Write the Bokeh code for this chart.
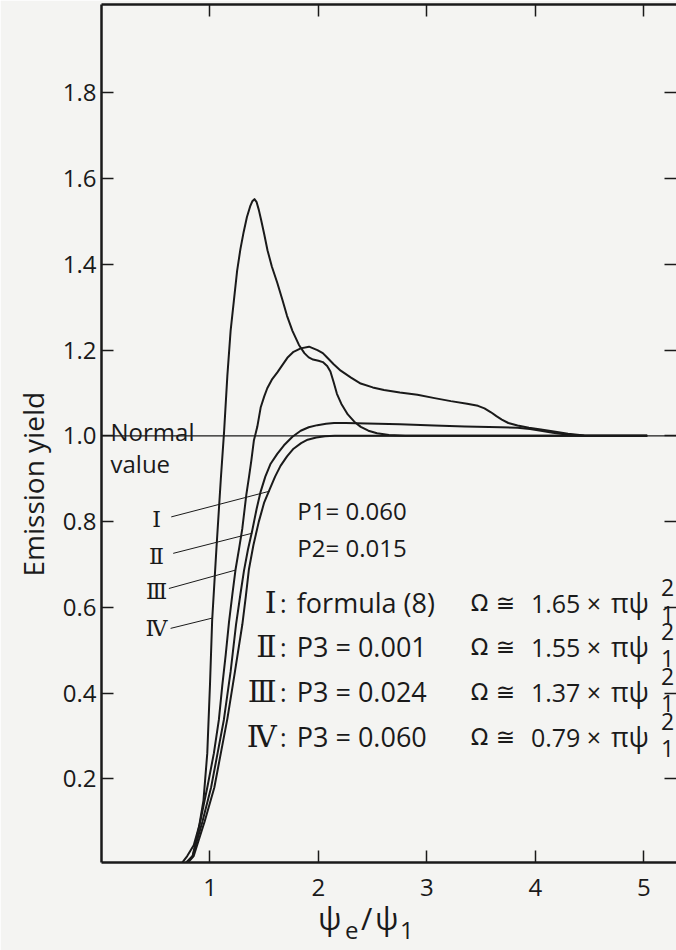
import math
from bokeh.plotting import figure
from bokeh.models import Range1d, FixedTicker, LinearAxis, Span, Title, PrintfTickFormatter
from bokeh.core.properties import value
from bokeh.embed import file_html
from bokeh.resources import INLINE

# ---------------- data ----------------
x_ticks = [1, 2, 3, 4, 5]
y_ticks = [0.2, 0.4, 0.6, 0.8, 1.0, 1.2, 1.4, 1.6, 1.8]
normal_value = 1.0

curve_I_x = [0.78, 0.85, 0.95, 1.04, 1.10, 1.16, 1.23, 1.298, 1.33, 1.359, 1.40, 1.45, 1.50, 1.55,
             1.60, 1.65, 1.71, 1.77, 1.84, 1.90, 1.98, 2.06, 2.15, 2.25, 5.03]
curve_I_y = [0.0, 0.02, 0.10, 0.18, 0.26, 0.34, 0.45, 0.56, 0.625, 0.689, 0.745, 0.80, 0.845, 0.875,
             0.905, 0.93, 0.952, 0.97, 0.983, 0.991, 0.996, 0.999, 1.0, 1.0, 1.0]

curve_II_x = [0.77, 0.84, 0.93, 1.01, 1.07, 1.128, 1.19, 1.24, 1.28, 1.313, 1.35, 1.39, 1.43, 1.467,
              1.51, 1.559, 1.62, 1.682, 1.76, 1.836, 1.91, 1.99, 2.07, 2.143, 2.25, 2.45, 2.75,
              3.066, 3.35, 3.68, 3.835, 3.95, 4.05, 4.16, 4.265, 4.45, 5.03]
curve_II_y = [0.0, 0.02, 0.10, 0.18, 0.26, 0.338, 0.45, 0.56, 0.63, 0.685, 0.735, 0.78, 0.83, 0.87,
              0.905, 0.935, 0.958, 0.978, 0.998, 1.012, 1.02, 1.025, 1.028, 1.03, 1.03, 1.029, 1.027,
              1.024, 1.022, 1.02, 1.019, 1.016, 1.012, 1.007, 1.004, 1.0, 1.0]

curve_III_x = [0.76, 0.84, 0.91, 0.975, 1.036, 1.082, 1.113, 1.145, 1.175, 1.206, 1.236, 1.27, 1.298,
               1.335, 1.36, 1.381, 1.405, 1.436, 1.467, 1.50, 1.528, 1.57, 1.621, 1.67, 1.713, 1.77,
               1.836, 1.913, 1.99, 2.04, 2.082, 2.14, 2.205, 2.30, 2.389, 2.50, 2.604, 2.75, 2.912,
               3.07, 3.22, 3.37, 3.47, 3.53, 3.59, 3.64, 3.69, 3.75, 3.835, 3.94, 4.05, 4.17, 4.30,
               4.45, 5.03]
curve_III_y = [0.0, 0.02, 0.10, 0.18, 0.26, 0.338, 0.417, 0.49, 0.565, 0.63, 0.689, 0.74, 0.784,
               0.863, 0.905, 0.942, 0.99, 1.021, 1.066, 1.092, 1.111, 1.131, 1.148, 1.166, 1.182,
               1.196, 1.204, 1.208, 1.20, 1.193, 1.182, 1.167, 1.152, 1.136, 1.122, 1.113, 1.107,
               1.101, 1.096, 1.088, 1.081, 1.075, 1.07, 1.064, 1.055, 1.046, 1.038, 1.03, 1.024,
               1.019, 1.015, 1.01, 1.005, 1.001, 1.0]

curve_IV_x = [0.73, 0.79, 0.85, 0.90, 0.94, 0.975, 1.0, 1.02, 1.06, 1.10, 1.13, 1.16, 1.19, 1.22,
              1.25, 1.28, 1.31, 1.34, 1.37, 1.39, 1.41, 1.43, 1.45, 1.47, 1.50, 1.53, 1.57, 1.62,
              1.67, 1.71, 1.76, 1.82, 1.87, 1.91, 1.95, 2.00, 2.04, 2.08, 2.11, 2.14, 2.17, 2.21,
              2.27, 2.33, 2.39, 2.46, 2.54, 2.65, 2.80, 5.03]
curve_IV_y = [0.0, 0.02, 0.045, 0.09, 0.15, 0.26, 0.42, 0.57, 0.74, 0.90, 1.01, 1.14, 1.245, 1.315,
              1.385, 1.435, 1.475, 1.51, 1.535, 1.547, 1.552, 1.545, 1.527, 1.505, 1.47, 1.433,
              1.395, 1.357, 1.315, 1.28, 1.245, 1.212, 1.193, 1.183, 1.178, 1.175, 1.172, 1.163,
              1.15, 1.125, 1.098, 1.075, 1.05, 1.033, 1.021, 1.012, 1.006, 1.002, 1.0, 1.0]

curve_names = ["Ⅰ", "Ⅱ", "Ⅲ", "Ⅳ"]
curve_desc = ["formula (8)", "P3 = 0.001", "P3 = 0.024", "P3 = 0.060"]
omega_factor = ["1.65", "1.55", "1.37", "0.79"]
param_lines = ["P1= 0.060", "P2= 0.015"]
y_title = "Emission yield"
x_title_main = ["ψ", "/", "ψ"]
x_title_sub = ["e", "1"]

# ---------------- layout (annotation placement) ----------------
leader_start_x = [0.643, 0.661, 0.621, 0.637]
leader_start_y = [0.811, 0.726, 0.644, 0.551]
leader_end_x = [1.550, 1.390, 1.236, 1.021]
leader_end_y = [0.871, 0.773, 0.687, 0.575]
side_label_x = 0.507
side_label_y = [0.804, 0.718, 0.636, 0.551]
param_y = [0.827, 0.740]
row_y = [0.611, 0.508, 0.403, 0.298]
x_title_main_pos = [2.103, 2.445, 2.629]
x_title_sub_pos = [2.306, 2.814]

FONT = "Open Sans"
SYM = "DejaVu Sans"
SERIF = "DejaVu Serif"
INK = "#1a1a1a"
BG = "#f4f4f2"

p = figure(width=676, height=950, output_backend="svg", toolbar_location=None,
           x_range=Range1d(0, 5.30), y_range=Range1d(0.005, 2.006),
           min_border_left=101, min_border_right=0, min_border_top=4, min_border_bottom=88,
           background_fill_color=BG, border_fill_color=BG, outline_line_color=None)
p.xgrid.visible = False
p.ygrid.visible = False


def style_axis(ax, labels=True):
    ax.axis_line_width = 2.5
    ax.axis_line_color = INK
    ax.major_tick_in = 12
    ax.major_tick_out = 0
    ax.major_tick_line_width = 1.5
    ax.major_tick_line_color = INK
    ax.minor_tick_line_color = None
    ax.major_label_text_font = FONT
    ax.major_label_text_font_size = "24px"
    ax.major_label_text_color = INK
    if not labels:
        ax.major_label_overrides = {t: "" for t in ax.ticker.ticks}
        ax.major_label_text_font_size = "0px"
        ax.major_label_standoff = 0


xa = p.xaxis[0]
xa.ticker = FixedTicker(ticks=x_ticks)
style_axis(xa)
xa.major_label_standoff = 16

ya = p.yaxis[0]
ya.ticker = FixedTicker(ticks=y_ticks)
ya.formatter = PrintfTickFormatter(format="%.1f")
style_axis(ya)
ya.major_label_standoff = 5

top = LinearAxis(ticker=FixedTicker(ticks=x_ticks))
style_axis(top, labels=False)
p.add_layout(top, "above")

right = LinearAxis(ticker=FixedTicker(ticks=y_ticks))
style_axis(right, labels=False)
right.axis_line_color = None
p.add_layout(right, "right")

# x-axis title built from two label rows (main glyphs and subscripts)
t_main = LinearAxis(ticker=FixedTicker(ticks=x_title_main_pos),
                    major_label_overrides={v: s for v, s in zip(x_title_main_pos, x_title_main)})
t_sub = LinearAxis(ticker=FixedTicker(ticks=x_title_sub_pos),
                   major_label_overrides={v: s for v, s in zip(x_title_sub_pos, x_title_sub)})
for ax, fnt, fs, so in [(t_main, FONT, "31px", -2), (t_sub, FONT, "24px", -20)]:
    ax.axis_line_color = None
    ax.major_tick_line_color = None
    ax.minor_tick_line_color = None
    ax.major_tick_in = 0
    ax.major_tick_out = 0
    ax.major_label_text_font = fnt
    ax.major_label_text_font_size = fs
    ax.major_label_text_color = INK
    ax.major_label_standoff = so
    p.add_layout(ax, "below")

# y-axis title
p.add_layout(Title(text=y_title, align="left", offset=286, text_font=FONT,
                   text_font_size="28px", text_font_style="normal", text_color=INK,
                   standoff=15), "left")

# normal value line
p.add_layout(Span(location=normal_value, dimension="width", line_color=INK, line_width=1.1))

# curves
for cx, cy in [(curve_I_x, curve_I_y), (curve_II_x, curve_II_y),
               (curve_III_x, curve_III_y), (curve_IV_x, curve_IV_y)]:
    p.line(cx, cy, line_color=INK, line_width=2.0, line_join="round")

# leader lines
p.segment(x0=leader_start_x, y0=leader_start_y, x1=leader_end_x, y1=leader_end_y,
          line_color=INK, line_width=1.0)

# side labels I..IV
p.text(x=[side_label_x] * 4, y=side_label_y, text=curve_names, text_font=value(SERIF),
       text_font_size="22px", text_align="center", text_baseline="middle", text_color=INK)

# Normal value
p.text(x=[0.083], y=[1.009], text=["Normal"], text_font=value(FONT), text_font_size="24px",
       text_baseline="alphabetic", text_color=INK)
p.text(x=[0.083], y=[0.936], text=["value"], text_font=value(FONT), text_font_size="24px",
       text_baseline="alphabetic", text_color=INK)

# parameter lines
p.text(x=[1.805] * 2, y=param_y, text=param_lines, text_font=value(FONT), text_font_size="24px",
       text_baseline="alphabetic", text_color=INK)

# rows
p.text(x=[1.614] * 4, y=row_y, text=curve_names, text_font=value(SERIF), text_font_size="30px",
       text_align="right", text_baseline="alphabetic", text_color=INK)
p.text(x=[1.645] * 4, y=row_y, text=[":"] * 4, text_font=value(FONT), text_font_size="25px",
       text_baseline="alphabetic", text_color=INK)
p.text(x=[1.80] * 4, y=row_y, text=curve_desc, text_font=value(FONT), text_font_size="27px",
       text_baseline="alphabetic", text_color=INK)
p.text(x=[3.404] * 4, y=row_y, text=["Ω ≅"] * 4, text_font=value(SYM), text_font_size="23px",
       text_baseline="alphabetic", text_color=INK)
p.text(x=[3.958] * 4, y=row_y, text=[f + " ×" for f in omega_factor], text_font=value(FONT),
       text_font_size="25px", text_baseline="alphabetic", text_color=INK)
p.text(x=[4.696] * 4, y=row_y, text=["πψ"] * 4, text_font=value(FONT), text_font_size="27px",
       text_baseline="alphabetic", text_color=INK)
p.text(x=[5.157] * 4, y=[v + 0.035 for v in row_y], text=["2"] * 4, text_font=value(FONT),
       text_font_size="23px", text_baseline="alphabetic", text_color=INK)
p.text(x=[5.157] * 4, y=[v - 0.028 for v in row_y], text=["1"] * 4, text_font=value(FONT),
       text_font_size="23px", text_baseline="alphabetic", text_color=INK)

open("out.html", "w").write(file_html(p, INLINE))
